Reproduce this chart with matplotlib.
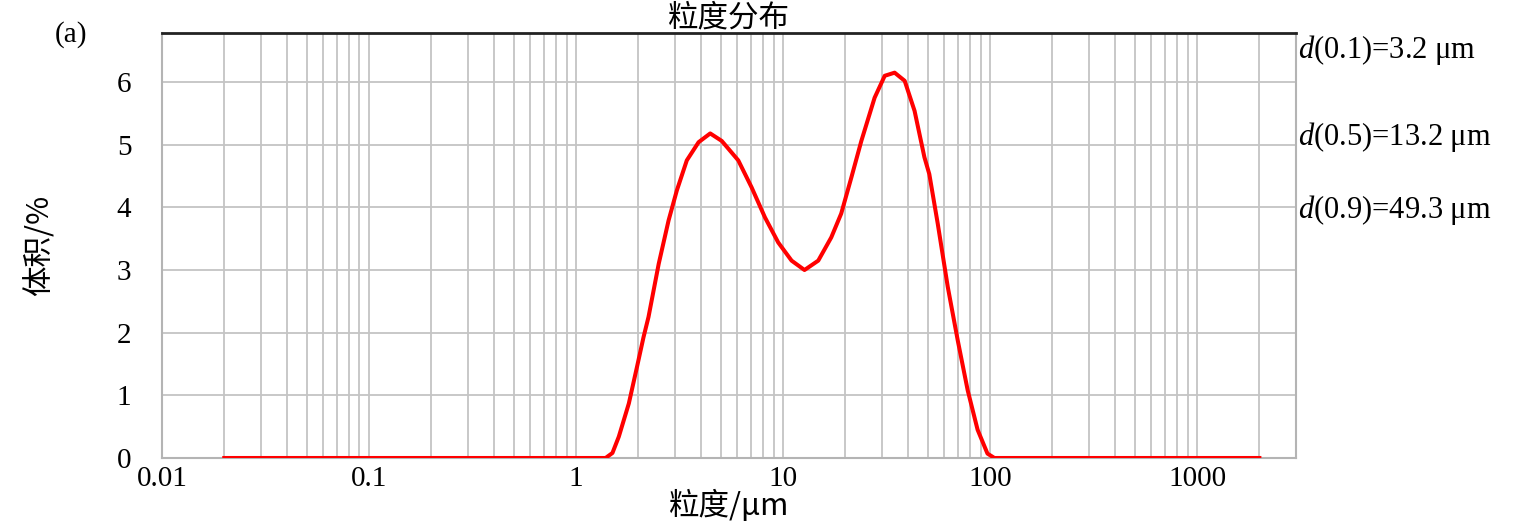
import numpy as np
import matplotlib
matplotlib.use("Agg")
from matplotlib import pyplot as plt
from matplotlib.ticker import LogLocator, FixedLocator, FixedFormatter

plt.rcParams['font.family'] = ['Liberation Serif', 'Noto Sans CJK SC']
plt.rcParams['mathtext.fontset'] = 'custom'
plt.rcParams['mathtext.rm'] = 'Liberation Serif'
plt.rcParams['mathtext.it'] = 'Liberation Serif:italic'

# particle size (um) and volume (%)
size_um = [0.02, 0.1, 0.5, 1.0, 1.39, 1.5, 1.61, 1.80, 1.97, 2.12, 2.24, 2.51, 2.80, 3.07,
           3.43, 3.91, 4.45, 5.06, 6.08, 7.05, 8.18, 9.48, 11.0, 12.7, 14.8,
           17.1, 19.1, 21.4, 23.9, 27.7, 31.0, 34.6, 38.7, 43.2, 48.2, 50.9,
           55.9, 62.5, 69.8, 78.0, 87.1, 97.2, 105, 200, 500, 1000, 2000]
volume = [0, 0, 0, 0, 0, 0.08, 0.34, 0.87, 1.45, 1.93, 2.25, 3.10, 3.79, 4.27,
          4.75, 5.04, 5.18, 5.06, 4.75, 4.32, 3.84, 3.44, 3.15, 3.00, 3.15,
          3.52, 3.90, 4.48, 5.06, 5.75, 6.10, 6.15, 6.02, 5.54, 4.80, 4.53,
          3.74, 2.73, 1.88, 1.08, 0.45, 0.07, 0, 0, 0, 0, 0]

x_ticks = [0.01, 0.1, 1, 10, 100, 1000]
x_labels = ['0.01', '0.1', '1', '10', '100', '1000']
d_labels = ['(0.1)=3.2 μm', '(0.5)=13.2 μm', '(0.9)=49.3 μm']

fig = plt.figure(figsize=(15.22, 5.31), dpi=100)
ax = fig.add_axes([0.1064, 0.1375, 0.745, 0.800])

ax.plot(size_um, volume, color='#ff0000', lw=2.9, zorder=3, solid_joinstyle='round')

ax.set_xscale('log')
ax.set_xlim(0.01, 3000)
ax.set_ylim(0, 6.78)
ax.xaxis.set_major_locator(FixedLocator(x_ticks))
ax.xaxis.set_major_formatter(FixedFormatter(x_labels))
ax.xaxis.set_minor_locator(LogLocator(base=10, subs=np.arange(2, 10)))
ax.xaxis.set_minor_formatter(plt.NullFormatter())
ax.set_yticks(range(0, 7))

ax.grid(True, which='both', axis='x', color='#c4c4c4', lw=1.3)
ax.grid(True, which='major', axis='y', color='#c4c4c4', lw=1.3)
ax.tick_params(which='both', length=0, labelsize=21)
ax.tick_params(axis='x', pad=6)
ax.tick_params(axis='y', pad=22)

for s in ['left', 'right', 'bottom']:
    ax.spines[s].set_color('#b4b4b4')
    ax.spines[s].set_linewidth(1.5)
ax.spines['top'].set_color('#222222')
ax.spines['top'].set_linewidth(2)

ax.set_title('粒度分布', fontsize=22, pad=0, family=['Noto Sans CJK SC'])
ax.set_xlabel('粒度/μm', fontsize=22, labelpad=-2, family=['Noto Sans CJK SC', 'Liberation Serif'])
ax.set_ylabel('体积/%', fontsize=22, labelpad=44, family=['Noto Sans CJK SC', 'Liberation Serif'])

fig.text(0.036, 0.935, '(a)', fontsize=21, ha='left', va='center')
ys = [0.905, 0.742, 0.605]
for y, lab in zip(ys, d_labels):
    fig.text(0.853, y, r'$\mathit{d}$' + lab, fontsize=22, ha='left', va='center')

fig.savefig('out.png', dpi=100)
